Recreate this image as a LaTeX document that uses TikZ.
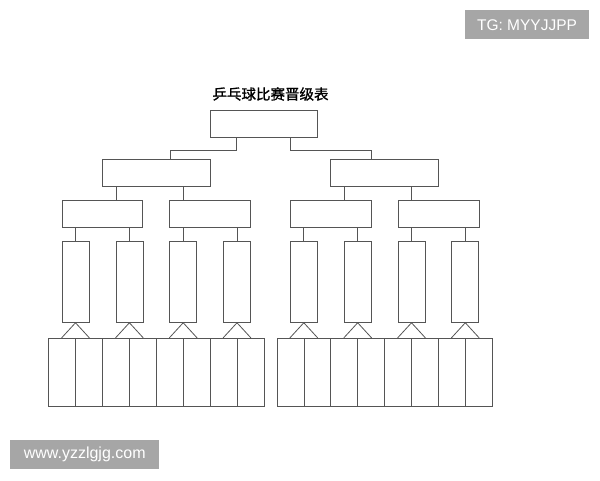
\documentclass[tikz,border=0pt]{standalone}
\usepackage{fontspec}
\newfontfamily\cjk[FakeBold=1.2]{Noto Sans CJK SC}
\newfontfamily\wmfont{Liberation Sans}
\usetikzlibrary{calc}
\definecolor{linec}{HTML}{555555}
\definecolor{wmgrey}{HTML}{A6A6A6}
\tikzset{
  box/.style={draw=linec, line width=0.8pt, rectangle, inner sep=0pt, anchor=center},
  wire/.style={draw=linec, line width=0.8pt},
  wmbox/.style={fill=wmgrey, inner sep=0pt, text=white, font=\wmfont\fontsize{15.5}{18}\selectfont}
}
\begin{document}
\begin{tikzpicture}[x=1pt,y=-1pt]
\useasboundingbox (0,0) rectangle (600,480);
% title
\node[font=\cjk\fontsize{14.5}{16}\selectfont, inner sep=0pt] (title) at (270.5,94) {乒乓球比赛晋级表};
% level 1
\node[box, minimum width=107pt, minimum height=26.5pt] (t) at (263.5,124) {};
% level 2
\node[box, minimum width=108pt, minimum height=27.4pt] (la) at (156.3,173) {};
\node[box, minimum width=107.6pt, minimum height=27.4pt] (ra) at (384.5,173) {};
% level 3
\foreach \n/\x in {q1/102.3, q2/210, q3/330.8, q4/438.7}
  \node[box, minimum width=80.7pt, minimum height=27pt] (\n) at (\x,213.8) {};
% level 4
\foreach \n/\x in {e1/75.5, e2/129.4, e3/183.2, e4/237, e5/303.8, e6/357.7, e7/411.5, e8/465.3}
  \node[box, minimum width=27pt, minimum height=81.3pt] (\n) at (\x,281.7) {};
% bottom cells
\foreach \i in {0,...,7}
  \node[box, minimum width=27pt, minimum height=68pt] (cl\i) at ({48.3+13.5+27*\i},372.3) {};
\foreach \i in {0,...,7}
  \node[box, minimum width=26.9pt, minimum height=68pt] (cr\i) at ({277+13.45+26.9*\i},372.3) {};
% connectors level1 -> level2
\draw[wire] (236.7,0 |- t.south) -- (236.7,150) -| (170,0 |- la.north);
\draw[wire] (290.7,0 |- t.south) -- (290.7,150) -| (371,0 |- ra.north);
% level2 -> level3
\draw[wire] (116,0 |- la.south) -- (116,0 |- q1.north);
\draw[wire] (183.3,0 |- la.south) -- (183.3,0 |- q2.north);
\draw[wire] (344,0 |- ra.south) -- (344,0 |- q3.north);
\draw[wire] (411.7,0 |- ra.south) -- (411.7,0 |- q4.north);
% level3 -> level4
\foreach \a/\b in {q1/e1, q1/e2, q2/e3, q2/e4, q3/e5, q3/e6, q4/e7, q4/e8}
  \draw[wire] (\b.north) -- (\b.north |- \a.south);
% triangles level4 -> cells
\foreach \b in {e1,e2,e3,e4}
  \draw[wire] (\b.south west |- cl0.north) -- (\b.south) -- (\b.south east |- cl0.north);
\foreach \b in {e5,e6,e7,e8}
  \draw[wire] (\b.south west |- cr0.north) -- (\b.south) -- (\b.south east |- cr0.north);
% watermarks
\node[wmbox, minimum width=124.6pt, minimum height=29.3pt] (wm1) at (527,24.7) {TG: MYYJJPP};
\node[wmbox, minimum width=149.3pt, minimum height=29.3pt, font=\wmfont\fontsize{16}{18}\selectfont] (wm2) at (84.7,454.7) {www.yzzlgjg.com};
\end{tikzpicture}
\end{document}
